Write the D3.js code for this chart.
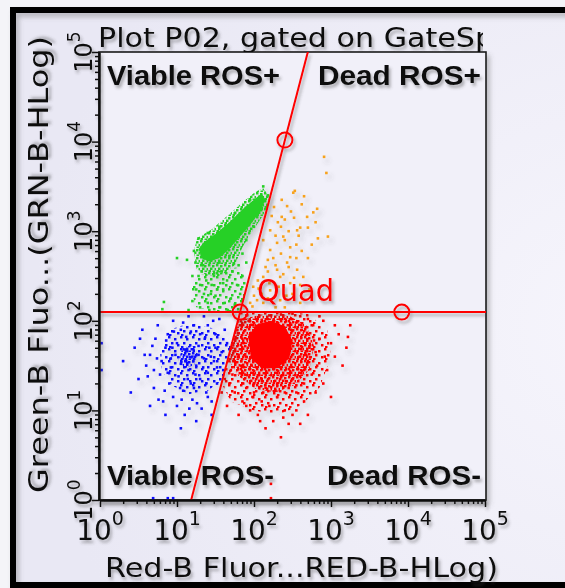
<!DOCTYPE html>
<html>
<head>
<meta charset="utf-8">
<script src="https://cdn.jsdelivr.net/npm/d3@7/dist/d3.min.js"></script>
<style>
  html, body { margin: 0; padding: 0; background: #f4f4f8; }
  svg { display: block; }
</style>
</head>
<body>
<script>
// ---------------- DATA (log10 intensities) ----------------
const title = "Plot P02, gated on GateSp";
const xAxisTitle = "Red-B Fluor...RED-B-HLog)";
const yAxisTitle = "Green-B Fluo...(GRN-B-HLog)";
const quadrantLabels = ["Viable ROS+", "Dead ROS+", "Viable ROS-", "Dead ROS-"];
const gateName = "Quad";
const xTickExponents = [0, 1, 2, 3, 4, 5];
const yTickExponents = [0, 1, 2, 3, 4, 5];

// gate handles (linear values)
const gateCenter = [66, 125];
const gateTopHandle = [252, 10400];
const gateRightHandle = [8300, 125];

// density regions (outline polygons, log10 units): solid cores, dense and sparse speckle zones
const redCore = [[1.93,1.82],[2.03,1.96],[2.22,2.00],[2.40,1.94],[2.50,1.78],[2.46,1.58],[2.30,1.47],[2.10,1.47],[1.96,1.58]];
const redMid = [[1.76,2.00],[2.10,2.07],[2.45,2.06],[2.68,1.95],[2.78,1.72],[2.72,1.45],[2.52,1.28],[2.28,1.20],[2.02,1.24],[1.80,1.38],[1.66,1.58],[1.70,1.82]];
const redOuter = [[1.80,2.10],[2.20,2.10],[2.70,2.08],[2.95,1.90],[3.00,1.60],[2.85,1.25],[2.60,1.05],[2.30,0.95],[2.00,1.00],[1.70,1.10],[1.55,1.35],[1.60,1.60],[1.70,1.90]];
const blueCore = [[1.02,1.56],[1.07,1.70],[1.19,1.73],[1.27,1.63],[1.22,1.50],[1.10,1.47]];
const blueMid = [[0.78,1.65],[0.90,1.90],[1.15,1.97],[1.45,1.92],[1.75,1.75],[1.68,1.40],[1.40,1.22],[1.15,1.18],[0.93,1.28],[0.80,1.45]];
const greenCore = [[2.10,3.42],[2.15,3.35],[2.08,3.22],[1.95,3.07],[1.80,2.92],[1.68,2.80],[1.55,2.70],[1.42,2.66],[1.32,2.70],[1.28,2.80],[1.35,2.88],[1.50,2.97],[1.68,3.10],[1.87,3.26],[2.01,3.36]];
const greenMid = [[2.12,3.48],[2.22,3.36],[2.12,3.18],[1.98,3.00],[1.85,2.82],[1.75,2.62],[1.60,2.52],[1.40,2.50],[1.25,2.58],[1.22,2.78],[1.26,2.92],[1.45,3.02],[1.65,3.17],[1.85,3.32],[2.02,3.44]];
const greenTail = [[1.25,2.50],[1.50,2.55],[1.80,2.60],[1.95,2.35],[1.90,2.11],[1.50,2.11],[1.25,2.15],[1.18,2.35]];

// individual events (log10 x, log10 y)
const redEvents = [[1.80,2.05],[1.85,1.95],[1.78,1.90],[1.90,2.06],[1.95,1.85],[1.72,1.70],[1.75,1.55],[1.80,1.62],[1.70,1.45],[1.68,1.30],[1.75,1.20],[1.62,1.35],[1.85,1.10],[1.95,1.00],[2.05,0.95],[1.90,1.25],[2.00,1.20],[2.10,1.10],[2.20,1.05],[2.30,1.15],[2.40,1.00],[2.25,0.88],[2.15,0.80],[2.45,1.25],[2.55,1.20],[2.65,1.30],[2.75,1.40],[2.70,1.55],[2.80,1.65],[2.85,1.80],[2.75,1.95],[2.90,2.00],[3.00,1.75],[3.05,1.60],[3.10,1.85],[2.95,1.45],[3.15,1.50],[2.60,2.05],[2.50,2.08],[2.35,2.07],[2.20,2.06],[2.05,2.04],[2.70,2.02],[1.60,1.50],[1.65,1.60],[1.58,1.20],[1.65,1.05],[1.80,0.95],[2.35,0.70],[2.60,0.85],[2.50,0.95],[2.00,1.40],[2.05,1.60],[1.92,1.70],[1.97,1.50],[2.80,1.20],[2.90,1.30],[3.20,1.70],[3.25,1.95],[3.22,1.82],[2.05,0.36],[2.22,0.18],[2.22,0.02],[2.65,1.10],[2.55,1.00],[2.45,0.85],[2.70,0.95],[3.00,1.15],[1.85,1.80],[1.88,1.40],[2.00,1.30],[2.10,1.35],[2.30,1.30],[2.50,1.35],[2.65,1.45],[2.72,1.70],[2.70,1.85],[2.55,1.98],[2.40,2.02],[2.25,2.00],[2.10,2.00],[1.95,1.95],[2.15,1.25],[2.40,1.20],[2.60,1.60],[2.62,1.90],[1.90,1.60],[2.00,1.75],[1.83,1.50],[1.86,1.30],[1.98,1.15],[2.12,1.20],[2.28,1.22],[2.35,1.38],[2.55,1.28],[2.68,1.62],[2.78,1.78],[2.82,1.50],[1.76,1.82],[1.93,2.00],[2.18,1.92],[2.48,1.90],[2.30,1.95],[1.72,1.40],[2.92,1.60],[2.60,1.38],[2.08,0.88],[2.38,0.92],[1.90,1.05],[2.85,2.05],[3.05,1.95]];

const blueEvents = [[0.30,1.55],[0.45,1.70],[0.50,1.35],[0.55,1.90],[0.60,1.50],[0.65,1.62],[0.70,1.25],[0.72,1.80],[0.75,1.95],[0.78,1.40],[0.80,1.55],[0.82,1.10],[0.85,1.70],[0.88,1.85],[0.90,1.30],[0.92,1.48],[0.95,2.00],[0.95,1.15],[0.98,1.62],[1.00,1.75],[1.00,1.05],[1.02,1.38],[1.05,1.90],[1.05,1.52],[1.08,1.22],[1.10,1.68],[1.10,0.95],[1.12,1.82],[1.15,1.45],[1.15,2.05],[1.18,1.30],[1.20,1.60],[1.20,1.12],[1.22,1.95],[1.25,1.50],[1.25,0.88],[1.28,1.72],[1.30,1.35],[1.30,1.85],[1.32,1.02],[1.35,1.58],[1.38,1.20],[1.40,1.95],[1.40,1.42],[1.42,1.70],[1.45,1.10],[1.48,1.55],[1.50,1.85],[1.52,1.30],[1.55,2.02],[1.58,1.65],[1.60,1.45],[1.62,1.90],[1.65,1.75],[1.55,1.15],[1.45,0.95],[1.05,0.80],[0.85,0.95],[0.65,1.05],[0.40,1.20],[0.52,1.80],[0.68,1.72],[0.62,1.38],[0.74,1.58],[0.88,1.42],[0.96,1.88],[1.08,1.98],[1.18,1.88],[1.28,1.62],[1.36,1.80],[1.44,1.60],[1.34,1.48],[1.24,1.40],[1.14,1.35],[1.04,1.25],[0.94,1.70],[0.84,1.22],[1.26,1.08],[1.38,1.30],[1.16,1.02],[1.06,1.12],[0.76,1.12],[1.50,1.70],[1.47,2.00],[1.35,2.05],[0.02,1.45],[0.02,1.75],[0.69,0.02],[0.88,0.02],[0.95,0.02],[0.92,1.58],[0.86,1.78],[1.12,1.55],[1.22,1.25],[0.70,1.45],[0.58,1.62],[1.40,1.15],[1.52,1.48]];

const greenEvents = [[1.13,2.68],[0.83,2.21],[1.00,2.70],[0.81,2.13],[1.30,2.15],[1.35,2.30],[1.40,2.20],[1.45,2.40],[1.50,2.28],[1.55,2.15],[1.60,2.35],[1.65,2.45],[1.70,2.25],[1.75,2.18],[1.78,2.40],[1.48,2.50],[1.38,2.45],[1.25,2.35],[1.20,2.50],[1.32,2.55],[1.58,2.55],[1.72,2.55],[1.80,2.62],[1.85,2.75],[1.90,2.90],[2.00,3.05],[2.10,3.25],[2.18,3.40],[2.12,3.50],[1.95,3.35],[1.75,3.20],[1.55,3.05],[1.40,2.98],[1.28,2.92],[1.22,2.78],[1.24,2.65],[1.35,2.70],[1.55,2.65],[1.68,2.72],[1.62,2.20],[1.42,2.12],[1.20,2.22],[1.15,2.12],[1.52,2.35],[1.30,2.40],[1.85,2.50],[1.82,2.30],[1.66,2.12],[1.90,2.65],[1.60,2.42],[1.44,2.30],[1.34,2.62],[1.28,2.50],[1.74,2.64],[1.95,3.15],[2.05,3.30],[1.50,2.90],[1.70,3.08]];

const orangeEvents = [[2.91,3.83],[2.94,3.65],[2.53,3.45],[2.51,3.43],[2.65,3.39],[2.36,3.35],[2.43,3.28],[2.26,3.27],[2.77,3.21],[2.82,3.25],[2.23,3.17],[2.36,3.16],[2.31,3.10],[2.40,3.13],[2.60,3.04],[2.70,3.04],[2.69,3.16],[2.83,2.92],[2.96,2.94],[2.21,3.01],[2.38,2.94],[2.12,2.90],[2.30,2.87],[2.47,2.82],[2.21,2.79],[2.43,2.65],[2.30,2.57],[2.56,2.57],[2.12,2.49],[2.34,2.49],[2.47,2.42],[1.99,2.38],[2.21,2.34],[2.04,2.23],[2.12,2.20],[1.95,2.20],[2.34,2.23],[2.60,2.20],[2.47,2.71],[2.56,3.01],[2.64,2.49],[2.15,2.60],[2.25,2.70],[2.05,2.45],[2.20,2.42],[2.35,2.75],[2.50,2.30],[2.40,2.15],[2.28,2.15],[2.60,2.40],[2.70,2.70],[2.55,2.85],[2.72,2.35],[2.18,2.55],[2.28,2.62],[2.38,2.52],[2.45,2.60],[2.52,2.48],[2.32,2.38],[2.10,2.30],[2.00,2.28],[2.18,2.25],[2.42,2.28],[2.55,2.70],[2.62,2.78],[2.40,2.90],[2.28,2.95],[2.45,3.00],[2.35,3.05],[2.52,3.15],[2.48,3.22],[2.62,3.30],[2.58,2.95],[2.75,2.85],[2.80,3.10],[2.18,2.68],[2.06,2.36],[1.98,2.16]];

// ---------------- DRAWING ----------------
(function () {
const W = 565, H = 588;
const svg = d3.select("body").append("svg").attr("width", W).attr("height", H);
const defs = svg.append("defs");

const rg = defs.append("radialGradient").attr("id", "bg").attr("cx", 0.98).attr("cy", 0.55).attr("r", 0.95);
rg.append("stop").attr("offset", "0%").attr("stop-color", "#f6f5fc");
rg.append("stop").attr("offset", "100%").attr("stop-color", "#e9e8f4");

const sh = defs.append("filter").attr("id", "sh").attr("x", "-20%").attr("y", "-20%").attr("width", "140%").attr("height", "140%");
sh.append("feDropShadow").attr("dx", 3).attr("dy", 4).attr("stdDeviation", 2.5).attr("flood-color", "#555").attr("flood-opacity", 0.35);
const shs = defs.append("filter").attr("id", "shs").attr("x", "-20%").attr("y", "-20%").attr("width", "140%").attr("height", "140%");
shs.append("feDropShadow").attr("dx", 2).attr("dy", 3).attr("stdDeviation", 1.6).attr("flood-color", "#444").attr("flood-opacity", 0.4);

// speckle patterns (style only)
const denseDots = [[0,0],[4,1],[2,3.5],[6.5,4],[0.5,6],[4.5,6.5]];
const sparseDots = [[0,0],[6,2],[3,6],[9,8],[1,10]];
function makePattern(id, color, size, dots) {
  const p = defs.append("pattern").attr("id", id).attr("patternUnits", "userSpaceOnUse")
    .attr("width", size).attr("height", size);
  p.selectAll("rect").data(dots).join("rect").attr("x", d => d[0]).attr("y", d => d[1])
    .attr("width", 2.5).attr("height", 2.5).attr("fill", color);
}
const colors = { red: "#ff0000", blue: "#1010ff", green: "#28d028", orange: "#f7a21c" };
Object.entries(colors).forEach(([k, c]) => {
  makePattern("pd-" + k, c, 8, denseDots);
  makePattern("ps-" + k, c, 12, sparseDots);
});

// background + black frame
svg.append("rect").attr("x", 13).attr("y", 10).attr("width", 620).attr("height", 575).attr("fill", "url(#bg)");
svg.append("rect").attr("x", 13).attr("y", 10).attr("width", 620).attr("height", 575)
  .attr("fill", "none").attr("stroke", "#000").attr("stroke-width", 6).attr("filter", "url(#sh)");

const pLeft = 100, pRight = 485, pTop = 52, pBottom = 500;
const x = d3.scaleLog().domain([1, 1e5]).range([pLeft, pRight]);
const y = d3.scaleLog().domain([1, 1e5]).range([pBottom, pTop]);
const px = v => x(Math.pow(10, v));
const py = v => y(Math.pow(10, v));

defs.append("clipPath").attr("id", "plotclip").append("rect")
  .attr("x", pLeft - 1).attr("y", pTop).attr("width", pRight - pLeft + 2).attr("height", pBottom - pTop);
defs.append("clipPath").attr("id", "titleclip").append("rect")
  .attr("x", 0).attr("y", 0).attr("width", pRight - 2).attr("height", pTop);

// gate geometry (log space) and quadrant clip regions
const lx0 = Math.log10(gateCenter[0]), ly0 = Math.log10(gateCenter[1]);
const slope = (Math.log10(gateTopHandle[0]) - lx0) / (Math.log10(gateTopHandle[1]) - ly0);
const diag = [[lx0 + (0 - ly0) * slope, 0], [lx0 + (5 - ly0) * slope, 5]];
const xb = px(diag[0][0]), xt = px(diag[1][0]), xc = x(gateCenter[0]), yc = y(gateCenter[1]);
const quadPolys = {
  red: [[xc, yc], [pRight + 2, yc], [pRight + 2, pBottom], [xb, pBottom]],
  blue: [[pLeft, yc], [xc, yc], [xb, pBottom], [pLeft - 1, pBottom], [pLeft - 1, yc]],
  green: [[pLeft - 1, pTop], [xt, pTop], [xc, yc], [pLeft - 1, yc]],
  orange: [[xt, pTop], [pRight + 2, pTop], [pRight + 2, yc], [xc, yc]]
};
Object.entries(quadPolys).forEach(([k, pts]) => {
  defs.append("clipPath").attr("id", "q-" + k).append("polygon").attr("points", pts.map(p => p.join(",")).join(" "));
});

// plot area
svg.append("rect").attr("x", pLeft - 1).attr("y", pTop).attr("width", pRight - pLeft + 2).attr("height", pBottom - pTop)
  .attr("fill", "#f1f0f9").attr("stroke", "#1a1a1a").attr("stroke-width", 1.6).attr("filter", "url(#sh)");

// title
svg.append("g").attr("clip-path", "url(#titleclip)").append("text")
  .attr("x", 98).attr("y", 47).attr("font-family", "DejaVu Sans").attr("font-size", 26).attr("fill", "#111")
  .attr("textLength", 396).attr("lengthAdjust", "spacingAndGlyphs").attr("filter", "url(#shs)")
  .text(title);

// data
const dataG = svg.append("g").attr("clip-path", "url(#plotclip)").append("g").attr("filter", "url(#sh)");
const line = d3.line().x(d => px(d[0])).y(d => py(d[1]));
const S = 2.6;
function cluster(key, layers, list) {
  const g = dataG.append("g").attr("clip-path", `url(#q-${key})`);
  layers.forEach(([poly, fill]) => g.append("path").datum(poly).attr("d", d => line(d) + "Z").attr("fill", fill));
  g.append("g").selectAll("rect").data(list).join("rect")
    .attr("x", d => px(d[0]) - S / 2).attr("y", d => py(d[1]) - S / 2)
    .attr("width", S).attr("height", S).attr("fill", colors[key]);
}
cluster("blue", [[blueMid, "url(#ps-blue)"], [blueCore, "url(#pd-blue)"]], blueEvents);
cluster("red", [[redOuter, "url(#ps-red)"], [redMid, "url(#pd-red)"], [redCore, colors.red]], redEvents);
cluster("green", [[greenTail, "url(#ps-green)"], [greenMid, "url(#pd-green)"], [greenCore, colors.green]], greenEvents);
cluster("orange", [], orangeEvents);

// quadrant gate
const gateG = svg.append("g").attr("clip-path", "url(#plotclip)").append("g").attr("filter", "url(#shs)");
gateG.append("path").datum(diag).attr("d", line).attr("stroke", "#ff0000").attr("stroke-width", 2).attr("fill", "none");
gateG.append("line").attr("x1", pLeft).attr("x2", pRight + 2).attr("y1", yc).attr("y2", yc)
  .attr("stroke", "#ff0000").attr("stroke-width", 2);
gateG.selectAll("circle").data([gateCenter, gateTopHandle, gateRightHandle]).join("circle")
  .attr("cx", d => x(d[0])).attr("cy", d => y(d[1])).attr("r", 7.5)
  .attr("fill", "none").attr("stroke", "#ff0000").attr("stroke-width", 2);
svg.append("text").attr("x", xc + 17).attr("y", yc - 11)
  .attr("font-family", "DejaVu Sans").attr("font-size", 31).attr("fill", "#ff0000")
  .attr("textLength", 77).attr("lengthAdjust", "spacingAndGlyphs").attr("filter", "url(#shs)").text(gateName);

// quadrant labels
const ql = svg.append("g").attr("font-family", "Liberation Sans, Arial, sans-serif").attr("font-weight", "bold")
  .attr("font-size", 28).attr("fill", "#111").attr("filter", "url(#shs)");
[[107, 85, 173], [318, 85, 163], [107, 485, 167], [327, 485, 154]].forEach((p, i) => {
  ql.append("text").attr("x", p[0]).attr("y", p[1]).attr("textLength", p[2])
    .attr("lengthAdjust", "spacingAndGlyphs").text(quadrantLabels[i]);
});

// axes
const majorVals = xTickExponents.map(e => Math.pow(10, e));
const minorVals = [];
for (let e = 0; e < 5; e++) for (let m = 2; m <= 9; m++) minorVals.push(m * Math.pow(10, e));
const axG = svg.append("g").attr("filter", "url(#shs)");
function styleAxis(g) {
  g.select(".domain").attr("stroke", "#111").attr("stroke-width", 2);
  g.selectAll(".tick line").attr("stroke", "#111").attr("stroke-width", 1.5);
  g.selectAll(".tick text").remove();
}
axG.append("g").attr("transform", `translate(0,${pBottom})`)
  .call(d3.axisBottom(x).tickValues(minorVals).tickSize(4).tickSizeOuter(0).tickFormat("")).call(styleAxis);
axG.append("g").attr("transform", `translate(0,${pBottom})`)
  .call(d3.axisBottom(x).tickValues(majorVals).tickSize(7).tickSizeOuter(0).tickFormat("")).call(styleAxis);
axG.append("g").attr("transform", `translate(${pLeft - 1},0)`)
  .call(d3.axisLeft(y).tickValues(minorVals).tickSize(4).tickSizeOuter(0).tickFormat("")).call(styleAxis);
axG.append("g").attr("transform", `translate(${pLeft - 1},0)`)
  .call(d3.axisLeft(y).tickValues(majorVals).tickSize(7).tickSizeOuter(0).tickFormat("")).call(styleAxis);

// tick labels
const tl = svg.append("g").attr("font-family", "DejaVu Sans").attr("fill", "#111").attr("filter", "url(#shs)");
xTickExponents.forEach(e => {
  const t = tl.append("text").attr("x", x(Math.pow(10, e))).attr("y", 540).attr("text-anchor", "middle").attr("font-size", 28);
  t.append("tspan").text("10");
  t.append("tspan").attr("font-size", 19).attr("dy", -15).text(e);
});
yTickExponents.forEach(e => {
  const t = tl.append("text").attr("transform", `translate(92,${y(Math.pow(10, e))}) rotate(-90)`)
    .attr("text-anchor", "middle").attr("font-size", 24);
  t.append("tspan").text("10");
  t.append("tspan").attr("font-size", 17).attr("dy", -12).text(e);
});

// axis titles
svg.append("text").attr("x", 105).attr("y", 577).attr("font-family", "DejaVu Sans").attr("font-size", 27)
  .attr("fill", "#111").attr("textLength", 393).attr("lengthAdjust", "spacingAndGlyphs").attr("filter", "url(#shs)")
  .text(xAxisTitle);
svg.append("text").attr("transform", "translate(48,493) rotate(-90)").attr("font-family", "DejaVu Sans").attr("font-size", 27)
  .attr("fill", "#111").attr("textLength", 457).attr("lengthAdjust", "spacingAndGlyphs").attr("filter", "url(#shs)")
  .text(yAxisTitle);
})();
</script>
</body>
</html>
